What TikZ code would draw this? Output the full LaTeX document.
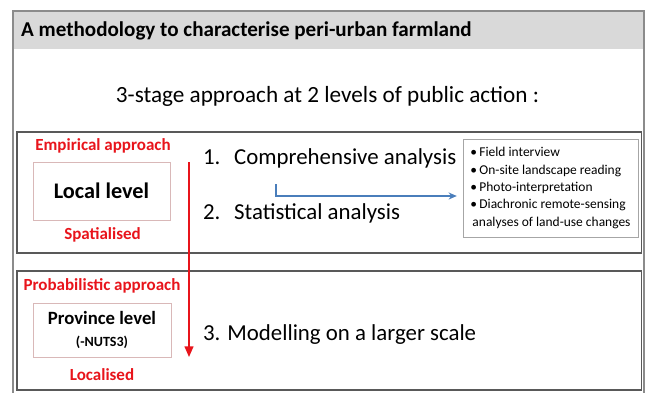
\documentclass[tikz,border=0pt]{standalone}
\usepackage{fontspec}
\setmainfont{Carlito}
\usetikzlibrary{arrows.meta,positioning}
\definecolor{headgray}{HTML}{D9D9D9}
\definecolor{framegray}{HTML}{595959}
\definecolor{boxpink}{HTML}{D9B8B8}
\definecolor{approachred}{HTML}{E8141B}
\definecolor{linkblue}{HTML}{4A7EBB}
\begin{document}
\begin{tikzpicture}[x=0.03cm,y=-0.03cm,
                    approach/.style={text=approachred,font=\bfseries\fontsize{14.5}{17}\selectfont},
                    level node/.style={rectangle,draw=boxpink,line width=0.6pt,align=center,font=\bfseries},
                    stage/.style={anchor=west,font=\fontsize{19.5}{23}\selectfont}]
  \useasboundingbox (0,0) rectangle (645,393);

  % frame and title band
  \fill[headgray] (13,12) rectangle (644,49);
  \draw[framegray!70,line width=0.9pt] (13,393) -- (13,11) -- (644,11) -- (644,393);
  \node[anchor=west,font=\bfseries\fontsize{18}{21}\selectfont] (title) at (17,31) {A methodology to characterise peri-urban farmland};
  \node[font=\fontsize{19.8}{23}\selectfont] (stages) at (327.5,96) {3-stage approach at 2 levels of public action :};

  % panels
  \draw[framegray,line width=1pt] (17,132) rectangle (641.5,253);
  \draw[framegray,line width=1pt] (17,271) rectangle (641.5,390);

  % local level
  \node[approach] (empirical) at (103,146) {Empirical approach};
  \node[level node,minimum width=4.11cm,minimum height=1.74cm,font=\bfseries\fontsize{19}{22}\selectfont] (local) at (101.5,191) {Local level};
  \node[approach] (spatialised) at (102.5,235) {Spatialised};
  \node[stage] (step1) at (199,158) {1.\hspace{0.6em}Comprehensive analysis};
  \node[stage] (step2) at (199,213) {2.\hspace{0.6em}Statistical analysis};
  \node[rectangle,draw=gray!70,line width=0.6pt,minimum width=5.25cm,minimum height=2.94cm,
        align=left,font=\fontsize{11.5}{14.9}\selectfont] (methods) at (550.5,188)
    {\textbullet\,Field interview\\
     \textbullet\,On-site landscape reading\\
     \textbullet\,Photo-interpretation\\
     \textbullet\,Diachronic remote-sensing\\
     \hspace{0.15em}analyses of land-use changes};

  % province level
  \node[approach] (probabilistic) at (102,286) {Probabilistic approach};
  \node[level node,minimum width=4.14cm,minimum height=1.62cm,font=\bfseries\fontsize{16}{19}\selectfont] (province) at (102,330)
    {Province level\\[-1pt]{\fontsize{12}{14}\selectfont(-NUTS3)}};
  \node[approach] (localised) at (102,375) {Localised};
  \node[stage] (step3) at (199,335) {3. Modelling on a larger scale};

  % arrows
  \coordinate (down start) at (189,162);
  \coordinate (down end) at (189,357);
  \coordinate (link start) at (276,184);
  \coordinate (link end) at (methods.west |- 0,196);
  \draw[approachred,line width=1.3pt,-{Triangle[length=9pt,width=7.5pt]}] (down start) -- (down end);
  \draw[linkblue,line width=1pt,shorten >=5pt,-{Stealth[length=7pt,width=6pt]}] (link start) |- (link end);
\end{tikzpicture}
\end{document}
